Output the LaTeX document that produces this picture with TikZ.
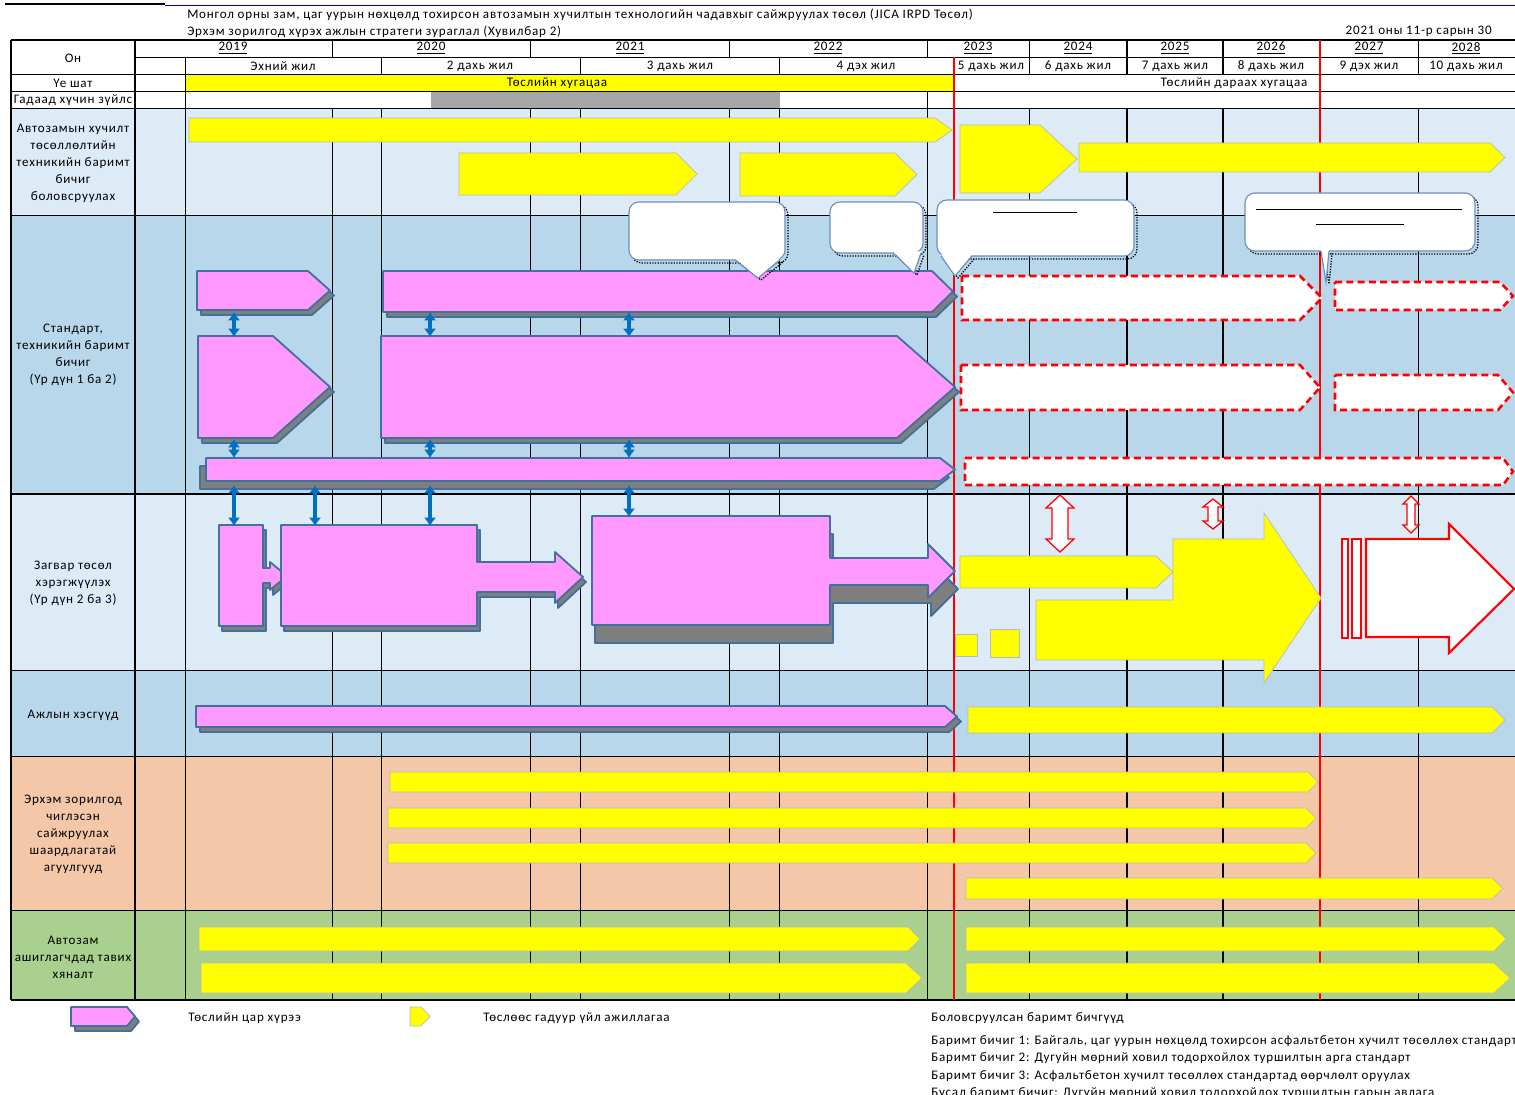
\documentclass[tikz,border=0pt]{standalone}
\usepackage{fontspec}
\setmainfont{Carlito}[LetterSpace=6]
\usetikzlibrary{arrows.meta}
\definecolor{lb}{HTML}{DDEBF7}
\definecolor{mb}{HTML}{B9D7EA}
\definecolor{pc}{HTML}{F4C7A9}
\definecolor{gc}{HTML}{A9D08E}
\definecolor{pk}{HTML}{FF99FF}
\definecolor{pkb}{HTML}{41719C}
\definecolor{shd}{HTML}{7F7F7F}
\definecolor{blu}{HTML}{0070C0}
\definecolor{ylw}{HTML}{FFFF00}
\definecolor{bub}{HTML}{6C8EBF}
\definecolor{gbar}{HTML}{A6A6A6}
\tikzset{
 yel/.style={fill=ylw, draw=gray!55, line width=0.5pt},
 pnk/.style={fill=pk, draw=pkb, line width=1.3pt, line join=round},
 shd0/.style={fill=shd, draw=pkb, line width=1.3pt, line join=round},
 rdash/.style={draw=red, fill=white, line width=1.8pt, dash pattern=on 5pt off 3pt},
 rdw/.style={draw=red, fill=white, line width=0.9pt},
 bldbl/.style={draw=blu, line width=2.8pt, {Latex[length=6pt,width=9pt]}-{Latex[length=6pt,width=9pt]}},
 gl/.style={line width=0.6pt},
 gt/.style={line width=1.5pt},
 gm/.style={line width=1.1pt},
 redl/.style={draw=red, line width=1.3pt},
 lbl/.style={align=center, inner sep=0pt, font=\fontsize{9.3}{12.1}\selectfont},
 txt/.style={inner sep=0pt},
}
% pentagon: style, x1, y1, xtip, y2, tipstart
\newcommand{\pent}[6]{\draw[#1] (#2,#3) -- (#6,#3) -- (#4,{(#3+#5)/2}) -- (#6,#5) -- (#2,#5) -- cycle;}
\newcommand{\ppent}[5]{\pent{shd0,shift={(4,5)}}{#1}{#2}{#3}{#4}{#5}\pent{pnk}{#1}{#2}{#3}{#4}{#5}}
% bubble: x1,y1,x2,y2, tail base a, tail base b, tip x, tip y
\newcommand{\bubble}[8]{%
 \draw[densely dotted, line width=0.9pt, shift={(3,3)}, rounded corners=7] (#1,#2) rectangle (#3,#4);
 \draw[densely dotted, line width=0.9pt, shift={(3,2)}] (#5,#4) -- (#7,#8) -- (#6,#4);
 \filldraw[fill=white, draw=bub, line width=0.8pt, rounded corners=7] (#1,#2) rectangle (#3,#4);
 \fill[white] (#5,{#4-1.5}) -- (#7,#8) -- (#6,{#4-1.5}) -- cycle;
 \draw[bub, line width=0.8pt] (#5,#4) -- (#7,#8) -- (#6,#4);
}
% vertical hollow double arrow: cx, y1, y2, shaft half, head half, head length
\newcommand{\vdbl}[6]{\draw[rdw] (#1,#2) -- ({#1+#5},{#2+#6}) -- ({#1+#4},{#2+#6}) -- ({#1+#4},{#3-#6}) -- ({#1+#5},{#3-#6}) -- (#1,#3) -- ({#1-#5},{#3-#6}) -- ({#1-#4},{#3-#6}) -- ({#1-#4},{#2+#6}) -- ({#1-#5},{#2+#6}) -- cycle;}
\begin{document}
\begin{tikzpicture}[x=0.025cm, y=-0.025cm, font=\fontsize{9.3}{12}\selectfont]
\useasboundingbox (0,0) rectangle (1515,1095);
\fill[white] (0,0) rectangle (1515,1095);
% top rule
\draw[black, line width=2pt] (5,4) -- (165,4);
\draw[blue!70!black, line width=0.7pt] (165,5) -- (1515,5);
% backgrounds
\fill[lb] (11,108) rectangle (1515,215);
\fill[mb] (11,215) rectangle (1515,494);
\fill[lb] (11,494) rectangle (1515,670);
\fill[mb] (11,670) rectangle (1515,756);
\fill[pc] (11,756) rectangle (1515,910);
\fill[gc] (11,910) rectangle (1515,1000);
\fill[ylw] (185,74) rectangle (954,91);
\fill[gbar] (431,91) rectangle (780,108);
% horizontal grid
\foreach \yy in {74,91,108,215,670,756,910} \draw[gl] (11,\yy) -- (1515,\yy);
\draw[gl] (135,57) -- (1515,57);
\draw[gt] (11,40) -- (1515,40);
\draw[gt] (11,494) -- (1515,494);
\draw[gt] (11,1000) -- (1515,1000);
\draw[gt] (11,40) -- (11,1000);
\draw[gt] (135,40) -- (135,1000);
% vertical grid
\foreach \xx in {332,530,729,927,1029,1418} \draw[gl] (\xx,40) -- (\xx,57);
\foreach \xx in {1127,1223} \draw[gm] (\xx,40) -- (\xx,57);
\foreach \xx in {185,381,580,779,1029,1418} \draw[gl] (\xx,57) -- (\xx,74);
\foreach \xx in {1127,1223} \draw[gm] (\xx,57) -- (\xx,74);
\draw[gl] (185,74) -- (185,108);
\draw[gl] (927,91) -- (927,108);
\foreach \xx in {185,332,381,530,580,729,779,927,1029,1418} \draw[gl] (\xx,108) -- (\xx,1000);
\foreach \xx in {1127,1223} \draw[gm] (\xx,108) -- (\xx,1000);
\draw[redl] (954,57) -- (954,1000);
\draw[redl] (1320,40) -- (1320,1000);
% title texts
\node[txt, anchor=west] (title) at (187,15) {Монгол орны зам, цаг уурын нөхцөлд тохирсон автозамын хучилтын технологийн чадавхыг сайжруулах төсөл (JICA IRPD Төсөл)};
\node[txt, anchor=west] (sub) at (187,33) {\underline{Эрхэм зорилгод хүрэх ажлын стратеги зураглал (Хувилбар 2)}};
\node[txt, anchor=east] (date) at (1492,33) {\underline{2021 оны 11-р сарын 30}};
% header texts
\node[txt] (on) at (73,58) {Он};
\node[txt] (y19) at (233,48) {\underline{2019}};
\node[txt] (y20) at (431,48) {\underline{2020}};
\node[txt] (y21) at (630,48) {\underline{2021}};
\node[txt] (y22) at (828,48) {\underline{2022}};
\node[txt] (y23) at (978,48) {\underline{2023}};
\node[txt] (y24) at (1078,48) {\underline{2024}};
\node[txt] (y25) at (1175,48) {\underline{2025}};
\node[txt] (y26) at (1271,48) {\underline{2026}};
\node[txt] (y27) at (1369,48) {\underline{2027}};
\node[txt] (y28) at (1466,48) {\underline{2028}};
\node[txt] (f1) at (283,66) {Эхний жил};
\node[txt] (f2) at (480,66) {2 дахь жил};
\node[txt] (f3) at (680,66) {3 дахь жил};
\node[txt] (f4) at (866,66) {4 дэх жил};
\node[txt] (f5) at (991,66) {5 дахь жил};
\node[txt] (f6) at (1078,66) {6 дахь жил};
\node[txt] (f7) at (1175,66) {7 дахь жил};
\node[txt] (f8) at (1271,66) {8 дахь жил};
\node[txt] (f9) at (1369,66) {9 дэх жил};
\node[txt] (f10) at (1466,66) {10 дахь жил};
\node[txt] (stage) at (73,83) {Үе шат};
\node[txt] (proj) at (557,83) {Төслийн хугацаа};
\node[txt] (post) at (1234,83) {Төслийн дараах хугацаа};
\node[txt] (ext) at (73,100) {Гадаад хүчин зүйлс};
% row labels
\node[lbl] (r1) at (73,163) {Автозамын хучилт\\төсөллөлтийн\\техникийн баримт\\бичиг\\боловсруулах};
\node[lbl] (r2) at (73,355) {Стандарт,\\техникийн баримт\\бичиг\\(Үр дүн 1 ба 2)};
\node[lbl] (r3) at (73,583) {Загвар төсөл\\хэрэгжүүлэх\\(Үр дүн 2 ба 3)};
\node[lbl] (r4) at (73,715) {Ажлын хэсгүүд};
\node[lbl] (r5) at (73,834) {Эрхэм зорилгод\\чиглэсэн\\сайжруулах\\шаардлагатай\\агуулгууд};
\node[lbl] (r6) at (73,957) {Автозам\\ашиглагчдад тавих\\хяналт};
% row 1 yellow
\pent{yel}{189}{118}{952}{142}{935}
\pent{yel}{459}{153}{697}{195}{676}
\pent{yel}{740}{153}{917}{196}{895}
\pent{yel}{960}{125}{1077}{193}{1040}
\pent{yel}{1079}{143}{1505}{172}{1490}
% row 2 pink
\ppent{197}{271}{330}{310}{308}
\ppent{383}{271}{953}{312}{932}
\ppent{198}{336}{330}{438}{273}
\ppent{381}{336}{955}{438}{897}
\pent{shd0,shift={(-6,8)}}{206}{458}{955}{481}{940}
\pent{pnk}{206}{458}{955}{481}{940}
% row 2 red dashed
\pent{rdash}{962}{276}{1322}{320}{1300}
\pent{rdash}{1335}{282}{1513}{310}{1500}
\pent{rdash}{961}{365}{1320}{410}{1300}
\pent{rdash}{1335}{375}{1513}{410}{1498}
\pent{rdash}{965}{458}{1513}{485}{1503}
% bubbles
\bubble{629}{202}{785}{260}{735}{780}{758}{278}
\bubble{830}{202}{923}{253}{893}{921}{914}{273}
\bubble{937}{200}{1134}{256}{941}{972}{955}{276}
\bubble{1245}{193}{1475}{251}{1321}{1329}{1326}{282}
\draw[line width=0.7pt] (993,212) -- (1077,212);
\draw[line width=0.7pt] (1256,209) -- (1462,209);
\draw[line width=0.7pt] (1316,224) -- (1404,224);
% row 3 pink
\draw[shd0, shift={(3,5)}] (219,525) -- (263,525) -- (263,568) -- (270,568) -- (270,562) -- (287,576) -- (270,590) -- (270,583) -- (263,583) -- (263,626) -- (219,626) -- cycle;
\draw[pnk] (219,525) -- (263,525) -- (263,568) -- (270,568) -- (270,562) -- (287,576) -- (270,590) -- (270,583) -- (263,583) -- (263,626) -- (219,626) -- cycle;
\draw[shd0, shift={(3,5)}] (281,525) -- (477,525) -- (477,562) -- (555,562) -- (555,552) -- (583,577) -- (555,603) -- (555,592) -- (477,592) -- (477,626) -- (281,626) -- cycle;
\draw[pnk] (281,525) -- (477,525) -- (477,562) -- (555,562) -- (555,552) -- (583,577) -- (555,603) -- (555,592) -- (477,592) -- (477,626) -- (281,626) -- cycle;
\draw[shd0, shift={(3,18)}] (592,516) -- (830,516) -- (830,558) -- (928,558) -- (928,544) -- (955,571) -- (928,598) -- (928,585) -- (830,585) -- (830,625) -- (592,625) -- cycle;
\draw[pnk] (592,516) -- (830,516) -- (830,558) -- (928,558) -- (928,544) -- (955,571) -- (928,598) -- (928,585) -- (830,585) -- (830,625) -- (592,625) -- cycle;
% blue double arrows
\foreach \xx in {234,430,629} {
  \draw[bldbl] (\xx,312) -- (\xx,337);
  \draw[bldbl] (\xx,439) -- (\xx,458);
}
\foreach \xx in {234,315,430} \draw[bldbl] (\xx,485) -- (\xx,526);
\draw[bldbl] (629,485) -- (629,517);
% row 3 yellow and red
\pent{yel}{960}{556}{1173}{588}{1156}
\draw[yel] (1036,600) -- (1173,600) -- (1173,539) -- (1264,539) -- (1264,513) -- (1321,598) -- (1264,683) -- (1264,660) -- (1036,660) -- cycle;
\draw[yel] (955,634) rectangle (977,656);
\draw[yel] (990,629) rectangle (1019,657);
\vdbl{1060}{495}{552}{8}{14}{13}
\vdbl{1213}{499}{529}{5}{10}{8}
\vdbl{1411}{496}{533}{4}{8}{8}
\draw[rdw, line width=1.3pt] (1342,539) rectangle (1348,638);
\draw[rdw, line width=1.3pt] (1352,539) rectangle (1361,638);
\draw[rdw, line width=1.5pt] (1366,539) -- (1449,539) -- (1449,524) -- (1514,589) -- (1449,653) -- (1449,637) -- (1366,637) -- cycle;
% row 4
\ppent{196}{706}{957}{727}{945}
\pent{yel}{968}{707}{1505}{733}{1492}
% row 5
\pent{yel}{390}{772}{1318}{792}{1308}
\pent{yel}{388}{808}{1316}{828}{1306}
\pent{yel}{388}{843}{1316}{863}{1306}
\pent{yel}{966}{878}{1503}{899}{1492}
% row 6
\pent{yel}{199}{927}{920}{951}{908}
\pent{yel}{201}{963}{922}{993}{906}
\pent{yel}{966}{927}{1506}{951}{1494}
\pent{yel}{966}{963}{1510}{993}{1494}
% legend
\ppent{71}{1007}{135}{1026}{127}
\pent{yel}{410}{1007}{430}{1026}{421}
\node[txt, anchor=west] (lg1) at (188,1018) {Төслийн цар хүрээ};
\node[txt, anchor=west] (lg2) at (483,1018) {Төслөөс гадуур үйл ажиллагаа};
\node[txt, anchor=west] (d0) at (931,1018) {Боловсруулсан баримт бичгүүд};
\node[txt, anchor=west] (d1) at (931,1041) {Баримт бичиг 1: Байгаль, цаг уурын нөхцөлд тохирсон асфальтбетон хучилт төсөллөх стандарт};
\node[txt, anchor=west] (d2) at (931,1058) {Баримт бичиг 2: Дугуйн мөрний ховил тодорхойлох туршилтын арга стандарт};
\node[txt, anchor=west] (d3) at (931,1076) {Баримт бичиг 3: Асфальтбетон хучилт төсөллөх стандартад өөрчлөлт оруулах};
\node[txt, anchor=west] (d4) at (931,1093) {Бусад баримт бичиг: Дугуйн мөрний ховил тодорхойлох туршилтын гарын авлага};
\end{tikzpicture}
\end{document}
